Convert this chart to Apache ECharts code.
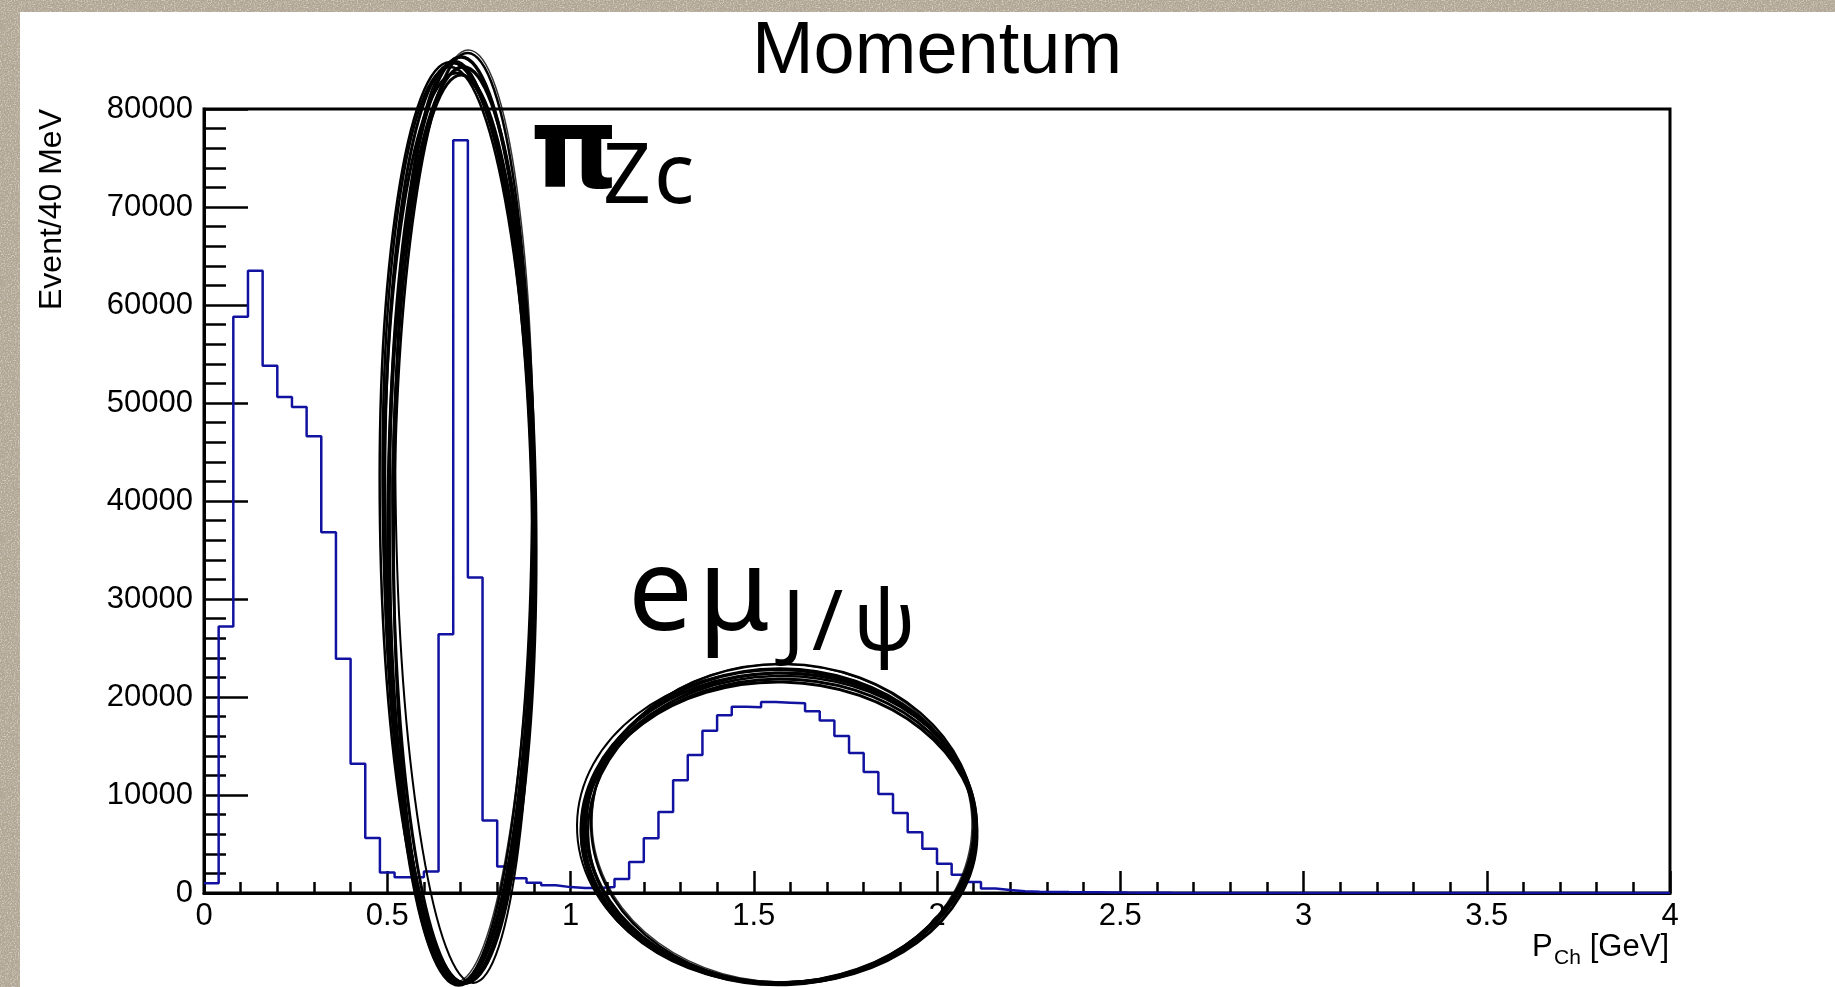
<!DOCTYPE html>
<html>
<head>
<meta charset="utf-8">
<title>Momentum</title>
<script src="https://cdn.jsdelivr.net/npm/echarts@6/dist/echarts.min.js"></script>
<style>
  html, body { margin: 0; padding: 0; width: 1835px; height: 987px; overflow: hidden; }
  body {
    background-color: #b3a895;
    background-image: url("data:image/svg+xml;utf8,<svg xmlns='http://www.w3.org/2000/svg' width='256' height='256'><filter id='d'><feTurbulence type='fractalNoise' baseFrequency='0.85' numOctaves='2' seed='3' stitchTiles='stitch'/><feColorMatrix values='0 0 0 0 0.40 0 0 0 0 0.37 0 0 0 0 0.33 1.8 0 0 0 -0.8'/></filter><filter id='l'><feTurbulence type='fractalNoise' baseFrequency='0.7' numOctaves='2' seed='9' stitchTiles='stitch'/><feColorMatrix values='0 0 0 0 0.86 0 0 0 0 0.83 0 0 0 0 0.78 1.8 0 0 0 -0.85'/></filter><rect width='100%' height='100%' filter='url(%23d)'/><rect width='100%' height='100%' filter='url(%23l)'/></svg>");
  }
  #panel { position: absolute; left: 20px; top: 12px; right: 0; bottom: 0; background: #ffffff; }
  #chart { position: absolute; left: 0; top: 0; width: 1835px; height: 987px; }
</style>
</head>
<body>
<div id="panel"></div>
<div id="chart"></div>
<script>
// Charged-track momentum histogram, 40 MeV bins from 0 to 4 GeV
const binWidth = 0.04;
const counts = [
  1000, 27200, 58800, 63500, 53800, 50600, 49600, 46600, 36800, 23900,
  13200, 5600, 2100, 1600, 1600, 2200, 26400, 76800, 32200, 7400,
  2700, 1500, 1050, 800, 600, 520, 520, 600, 1430, 3160,
  5580, 8270, 11500, 14080, 16560, 18130, 19010, 18950, 19490, 19420,
  19350, 18540, 17590, 16020, 14290, 12350, 10100, 8160, 6190, 4520,
  2990, 1870, 1120, 460, 300, 180, 130, 110, 90, 80,
  70, 60, 45, 35, 25, 15, 10, 8, 6, 5,
  4, 3, 2, 2, 1, 1, 0, 0, 0, 0,
  0, 0, 0, 0, 0, 0, 0, 0, 0, 0,
  0, 0, 0, 0, 0, 0, 0, 0, 0, 0
];
const xTicks = { min: 0, max: 4, step: 0.5 };
const yTicks = { min: 0, max: 80000, step: 10000 };
const titleText = 'Momentum';
const yTitle = 'Event/40 MeV';

// left bin edges with their contents, closed at the upper edge of the last bin
const stepPoints = counts.map((c, i) => [i * binWidth, c]);
stepPoints.push([counts.length * binWidth, counts[counts.length - 1]]);

const AXIS_FONT = 'Liberation Sans';
const NOTE_FONT = 'Noto Sans';
const PI_FONT = 'DejaVu Sans';
// distance from the em-box middle down to the baseline, in em
const MIDDLE_TO_BASELINE = { 'Liberation Sans': 0.31, 'Noto Sans': 0.285, 'DejaVu Sans': 0.297 };

// hand-drawn loops: several slightly shifted strokes around one ellipse
function loop(cx, cy, rx, ry, variants) {
  return variants.map(v => ({
    type: 'ellipse',
    x: cx + v[0], y: cy + v[1], rotation: v[4],
    shape: { cx: 0, cy: 0, rx: rx + v[2], ry: ry + v[3] },
    style: { fill: 'none', stroke: '#000', lineWidth: v[5], opacity: v[6] == null ? 1 : v[6] },
    silent: true, z: 100
  }));
}

function glyph(text, x, baseline, size, family, weight, align) {
  const k = MIDDLE_TO_BASELINE[family];
  return {
    type: 'text', x: x, y: baseline - k * size, silent: true, z: 110,
    style: {
      text: text, fontSize: size, fontFamily: family, fontWeight: weight || 'normal',
      fill: '#000', align: align || 'left', verticalAlign: 'middle'
    }
  };
}

const piLoop = loop(461, 520, 72, 463, [
  [0, 0, 0, 0, 0, 3.5],
  [-2, 3, 2, -3, 0.012, 3],
  [2, -2, -3, 2, -0.01, 2.5],
  [-3, 5, 3, -5, 0.018, 2.5],
  [1, -4, -1, 3, -0.014, 1.5, 0.8],
  [-1, 8, 4, -8, 0.008, 3],
  [3, 2, -4, -2, 0.02, 2],
  [0, 6, 1, -4, -0.005, 3.5],
  [-4, 3, 5, -2, 0.015, 2.5],
  [2, 9, -2, -9, 0.004, 3]
]);
const jpsiLoop = loop(780, 826, 194, 157, [
  [0, 0, 0, 0, 0, 3.5],
  [-2, 2, 3, -2, 0.02, 3],
  [3, -2, -2, 3, -0.015, 2.5],
  [-1, 4, 4, -3, 0.03, 2.5],
  [2, -3, -4, 2, -0.025, 1.5, 0.8],
  [0, 5, 2, -5, 0.01, 3],
  [-3, 1, 6, 0, -0.01, 2],
  [1, 3, -1, -1, 0.035, 2.5],
  [0, 7, 3, -6, -0.02, 3]
]);

const chart = echarts.init(document.getElementById('chart'), null, { renderer: 'canvas' });

const axisCommon = {
  type: 'value',
  axisLine: { show: true, onZero: false, lineStyle: { color: '#000', width: 3 } },
  splitLine: { show: false },
  axisLabel: { color: '#000', fontFamily: AXIS_FONT, fontSize: 31, formatter: v => String(v) },
  minorTick: { show: true, splitNumber: 5, lineStyle: { color: '#000', width: 2.5 } },
  axisTick: { show: true, inside: true, lineStyle: { color: '#000', width: 2.5 } }
};

chart.setOption({
  animation: false,
  backgroundColor: 'transparent',
  grid: {
    left: 204, right: 165, top: 109, bottom: 94,
    show: true, borderColor: '#000', borderWidth: 3, backgroundColor: 'transparent',
    containLabel: false, outerBoundsMode: 'none'
  },
  xAxis: Object.assign({}, axisCommon, {
    min: xTicks.min, max: xTicks.max, interval: xTicks.step,
    axisTick: Object.assign({}, axisCommon.axisTick, { length: 22 }),
    minorTick: Object.assign({}, axisCommon.minorTick, { length: 11 }),
    axisLabel: Object.assign({}, axisCommon.axisLabel, { margin: 8 })
  }),
  yAxis: Object.assign({}, axisCommon, {
    min: yTicks.min, max: yTicks.max, interval: yTicks.step,
    axisTick: Object.assign({}, axisCommon.axisTick, { length: 44 }),
    minorTick: Object.assign({}, axisCommon.minorTick, { length: 22 }),
    axisLabel: Object.assign({}, axisCommon.axisLabel, { margin: 11 })
  }),
  series: [{
    type: 'line',
    data: stepPoints,
    step: 'end',
    showSymbol: false,
    symbol: 'none',
    clip: true,
    lineStyle: { color: '#1212a0', width: 2.5 },
    z: 5
  }],
  graphic: [
    glyph(titleText, 937, 76, 74, AXIS_FONT, 'normal', 'center'),
    {
      type: 'text', x: 52, y: 109, rotation: Math.PI / 2, silent: true, z: 110,
      style: { text: yTitle, fontSize: 32, fontFamily: AXIS_FONT, fill: '#000', align: 'right', verticalAlign: 'middle' }
    },
    glyph('P', 1532, 957, 31, AXIS_FONT),
    glyph('Ch', 1554, 965, 21, AXIS_FONT),
    glyph('[GeV]', 1669, 957, 31, AXIS_FONT, 'normal', 'right'),
    // pion from the Zc decay
    glyph('π', 530, 191, 112, PI_FONT, 'bold'),
    glyph('Z', 603, 203, 84, NOTE_FONT, 'normal'),
    glyph('c', 654, 203, 84, NOTE_FONT, 'normal'),
    // leptons from the J/ψ decay
    glyph('e', 628, 630, 115, NOTE_FONT, 'normal'),
    glyph('μ', 698, 630, 115, NOTE_FONT, 'normal'),
    glyph('J', 782, 650, 84, NOTE_FONT, 'normal'),
    glyph('/', 812, 650, 84, NOTE_FONT, 'normal'),
    glyph('ψ', 853, 650, 84, NOTE_FONT, 'normal')
  ].concat(piLoop, jpsiLoop)
});
</script>
</body>
</html>
